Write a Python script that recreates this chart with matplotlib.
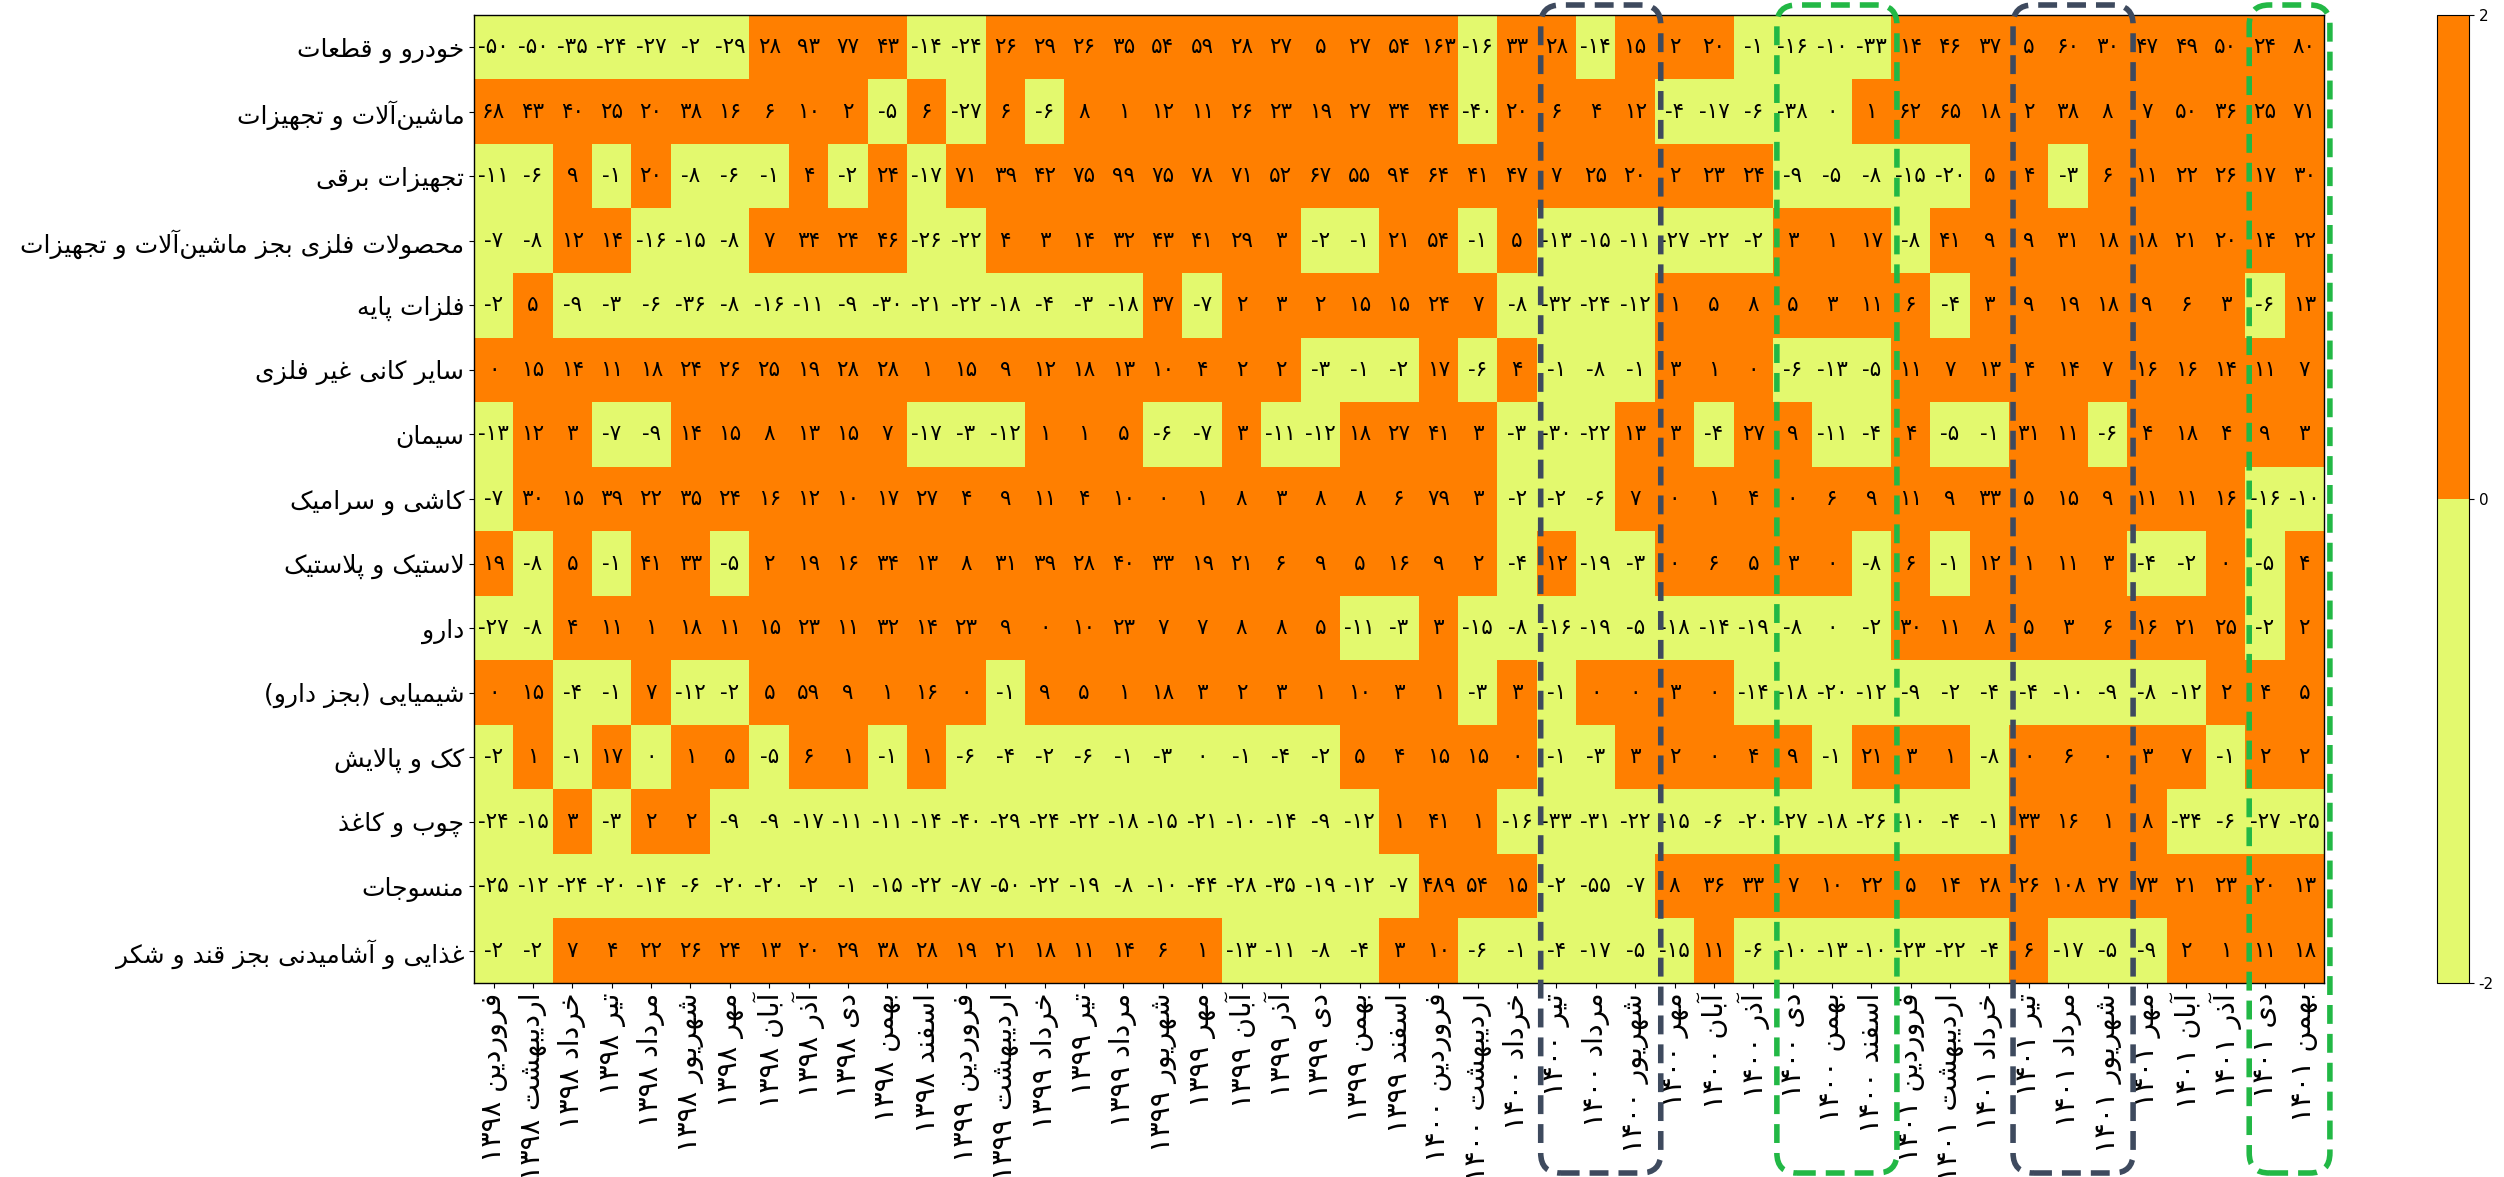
import matplotlib
matplotlib.use("Agg")
import matplotlib.pyplot as plt
import numpy as np
from matplotlib.colors import ListedColormap
from matplotlib.patches import FancyBboxPatch
from matplotlib.transforms import IdentityTransform

plt.rcParams['font.family'] = ['DejaVu Sans']
plt.rcParams['axes.unicode_minus'] = False

# ---------------- data ----------------
industries = [
    "خودرو و قطعات",
    "ماشین‌آلات و تجهیزات",
    "تجهیزات برقی",
    "محصولات فلزی بجز ماشین‌آلات و تجهیزات",
    "فلزات پایه",
    "سایر کانی غیر فلزی",
    "سیمان",
    "کاشی و سرامیک",
    "لاستیک و پلاستیک",
    "دارو",
    "شیمیایی (بجز دارو)",
    "کک و پالایش",
    "چوب و کاغذ",
    "منسوجات",
    "غذایی و آشامیدنی بجز قند و شکر",
]

month_names = ["فروردین", "اردیبهشت", "خرداد", "تیر", "مرداد", "شهریور",
               "مهر", "آبان", "آذر", "دی", "بهمن", "اسفند"]
years = ["1398", "1399", "1400", "1401"]
months_in_last_year = 11

# growth values (%) ; +-0.3 marks a value shown as 0 with its sign (colour)
row_auto = [-50,-50,-35,-24,-27,-2,-29,28,93,77,43,-14,-24,26,29,26,35,54,59,28,27,5,27,54,163,
            -16,33,28,-14,15,2,20,-1,-16,-10,-33,14,46,37,5,60,30,47,49,50,24,80]
row_mach = [68,43,40,25,20,38,16,6,10,2,-5,6,-27,6,-6,8,1,12,11,26,23,19,27,34,44,
            -40,20,6,4,12,-4,-17,-6,-38,-0.3,1,62,65,18,2,38,8,7,50,36,25,71]
row_elec = [-11,-6,9,-1,20,-8,-6,-1,4,-2,24,-17,71,39,42,75,99,75,78,71,52,67,55,94,64,
            41,47,7,25,20,2,23,24,-9,-5,-8,-15,-20,5,4,-3,6,11,22,26,17,30]
row_metprod = [-7,-8,12,14,-16,-15,-8,7,34,24,46,-26,-22,4,3,14,32,43,41,29,3,-2,-1,21,54,
               -1,5,-13,-15,-11,-27,-22,-2,3,1,17,-8,41,9,9,31,18,18,21,20,14,22]
row_basemet = [-2,5,-9,-3,-6,-36,-8,-16,-11,-9,-30,-21,-22,-18,-4,-3,-18,37,-7,2,3,2,15,15,24,
               7,-8,-32,-24,-12,1,5,8,5,3,11,6,-4,3,9,19,18,9,6,3,-6,13]
row_nonmet = [0.3,15,14,11,18,24,26,25,19,28,28,1,15,9,12,18,13,10,4,2,2,-3,-1,-2,17,
              -6,4,-1,-8,-1,3,1,0.3,-6,-13,-5,11,7,13,4,14,7,16,16,14,11,7]
row_cement = [-13,12,3,-7,-9,14,15,8,13,15,7,-17,-3,-12,1,1,5,-6,-7,3,-11,-12,18,27,41,
              3,-3,-30,-22,13,3,-4,27,9,-11,-4,4,-5,-1,31,11,-6,4,18,4,9,3]
row_tile = [-7,30,15,39,22,35,24,16,12,10,17,27,4,9,11,4,10,0.3,1,8,3,8,8,6,79,
            3,-2,-2,-6,7,0.3,1,4,0.3,6,9,11,9,33,5,15,9,11,11,16,-16,-10]
row_rubber = [19,-8,5,-1,41,33,-5,2,19,16,34,13,8,31,39,28,40,33,19,21,6,9,5,16,9,
              2,-4,12,-19,-3,0.3,6,5,3,0.3,-8,6,-1,12,1,11,3,-4,-2,0.3,-5,4]
row_pharma = [-27,-8,4,11,1,18,11,15,23,11,32,14,23,9,0.3,10,23,7,7,8,8,5,-11,-3,3,
              -15,-8,-16,-19,-5,-18,-14,-19,-8,-0.3,-2,30,11,8,5,3,6,16,21,25,-2,2]
row_chem = [0.3,15,-4,-1,7,-12,-2,5,59,9,1,16,0.3,-1,9,5,1,18,3,2,3,1,10,3,1,
            -3,3,-1,0.3,0.3,3,0.3,-14,-18,-20,-12,-9,-2,-4,-4,-10,-9,-8,-12,2,4,5]
row_coke = [-2,1,-1,17,-0.3,1,5,-5,6,1,-1,1,-6,-4,-2,-6,-1,-3,-0.3,-1,-4,-2,5,4,15,
            15,0.3,-1,-3,3,2,0.3,4,9,-1,21,3,1,-8,0.3,6,0.3,3,7,-1,2,2]
row_wood = [-24,-15,3,-3,2,2,-9,-9,-17,-11,-11,-14,-40,-29,-24,-22,-18,-15,-21,-10,-14,-9,-12,1,41,
            1,-16,-33,-31,-22,-15,-6,-20,-27,-18,-26,-10,-4,-1,33,16,1,8,-34,-6,-27,-25]
row_textile = [-25,-12,-24,-20,-14,-6,-20,-20,-2,-1,-15,-22,-87,-50,-22,-19,-8,-10,-44,-28,-35,-19,-12,-7,489,
               54,15,-2,-55,-7,8,36,33,7,10,22,5,14,28,26,108,27,73,21,23,20,13]
row_food = [-2,-2,7,4,22,26,24,13,20,29,38,28,19,21,18,11,14,6,1,-13,-11,-8,-4,3,10,
            -6,-1,-4,-17,-5,-15,11,-6,-10,-13,-10,-23,-22,-4,6,-17,-5,-9,2,1,11,18]

rows = [row_auto, row_mach, row_elec, row_metprod, row_basemet, row_nonmet, row_cement,
        row_tile, row_rubber, row_pharma, row_chem, row_coke, row_wood, row_textile, row_food]

# highlighted periods: (first month index, number of months, colour)
highlights = [(27, 3, "#3E4A5E"), (33, 3, "#22B845"), (39, 3, "#3E4A5E"), (45, 2, "#22B845")]

# ---------------- helpers for Persian text ----------------
FA_DIG = str.maketrans("0123456789", "۰۱۲۳۴۵۶۷۸۹")

FORMS = {
    'ا': ('\uFE8D', '\uFE8E', None, None), 'آ': ('\uFE81', '\uFE82', None, None),
    'أ': ('\uFE83', '\uFE84', None, None),
    'ب': ('\uFE8F', '\uFE90', '\uFE91', '\uFE92'), 'پ': ('\uFB56', '\uFB57', '\uFB58', '\uFB59'),
    'ت': ('\uFE95', '\uFE96', '\uFE97', '\uFE98'), 'ث': ('\uFE99', '\uFE9A', '\uFE9B', '\uFE9C'),
    'ج': ('\uFE9D', '\uFE9E', '\uFE9F', '\uFEA0'), 'چ': ('\uFB7A', '\uFB7B', '\uFB7C', '\uFB7D'),
    'ح': ('\uFEA1', '\uFEA2', '\uFEA3', '\uFEA4'), 'خ': ('\uFEA5', '\uFEA6', '\uFEA7', '\uFEA8'),
    'د': ('\uFEA9', '\uFEAA', None, None), 'ذ': ('\uFEAB', '\uFEAC', None, None),
    'ر': ('\uFEAD', '\uFEAE', None, None), 'ز': ('\uFEAF', '\uFEB0', None, None),
    'ژ': ('\uFB8A', '\uFB8B', None, None),
    'س': ('\uFEB1', '\uFEB2', '\uFEB3', '\uFEB4'), 'ش': ('\uFEB5', '\uFEB6', '\uFEB7', '\uFEB8'),
    'ص': ('\uFEB9', '\uFEBA', '\uFEBB', '\uFEBC'), 'ض': ('\uFEBD', '\uFEBE', '\uFEBF', '\uFEC0'),
    'ط': ('\uFEC1', '\uFEC2', '\uFEC3', '\uFEC4'), 'ظ': ('\uFEC5', '\uFEC6', '\uFEC7', '\uFEC8'),
    'ع': ('\uFEC9', '\uFECA', '\uFECB', '\uFECC'), 'غ': ('\uFECD', '\uFECE', '\uFECF', '\uFED0'),
    'ف': ('\uFED1', '\uFED2', '\uFED3', '\uFED4'), 'ق': ('\uFED5', '\uFED6', '\uFED7', '\uFED8'),
    'ک': ('\uFB8E', '\uFB8F', '\uFB90', '\uFB91'), 'گ': ('\uFB92', '\uFB93', '\uFB94', '\uFB95'),
    'ل': ('\uFEDD', '\uFEDE', '\uFEDF', '\uFEE0'), 'م': ('\uFEE1', '\uFEE2', '\uFEE3', '\uFEE4'),
    'ن': ('\uFEE5', '\uFEE6', '\uFEE7', '\uFEE8'), 'ه': ('\uFEE9', '\uFEEA', '\uFEEB', '\uFEEC'),
    'و': ('\uFEED', '\uFEEE', None, None),
    'ی': ('\uFBFC', '\uFBFD', '\uFBFE', '\uFBFF'), 'ئ': ('\uFE89', '\uFE8A', '\uFE8B', '\uFE8C'),
}
LAMALEF = {'ا': ('\uFEFB', '\uFEFC'), 'آ': ('\uFEF5', '\uFEF6'), 'أ': ('\uFEF7', '\uFEF8')}


def shape(text):
    units = []
    i = 0
    while i < len(text):
        c = text[i]
        if c == 'ل' and i + 1 < len(text) and text[i + 1] in LAMALEF:
            units.append(('LA', text[i + 1]))
            i += 2
        else:
            units.append((c, None))
            i += 1

    def dual(u):
        return u[0] in FORMS and FORMS[u[0]][2] is not None

    def arabic(u):
        return u[0] == 'LA' or u[0] in FORMS

    out = []
    for k, u in enumerate(units):
        prev = units[k - 1] if k > 0 else None
        nxt = units[k + 1] if k + 1 < len(units) else None
        cp = prev is not None and dual(prev) and arabic(u)
        if u[0] == 'LA':
            iso, fin = LAMALEF[u[1]]
            out.append(fin if cp else iso)
            continue
        if u[0] not in FORMS:
            if u[0] != '\u200c':
                out.append(u[0])
            continue
        f = FORMS[u[0]]
        cn = dual(u) and nxt is not None and arabic(nxt)
        if cp and cn:
            out.append(f[3])
        elif cn:
            out.append(f[2])
        elif cp:
            out.append(f[1])
        else:
            out.append(f[0])
    return ''.join(out)


def rtl(text):
    shaped = shape(text.translate(FA_DIG))
    tokens = []
    for ch in shaped:
        if ch.isdigit() and tokens and tokens[-1][0].isdigit():
            tokens[-1] += ch
        else:
            tokens.append(ch)
    tokens.reverse()
    mirror = {'(': ')', ')': '('}
    return ''.join(mirror.get(t, t) for t in tokens)


def fa_num(v):
    n = int(round(v))
    s = str(abs(n)).translate(FA_DIG)
    return ('-' + s) if n < 0 else s


# x labels
periods = []
for yi, y in enumerate(years):
    nm = 12 if yi < len(years) - 1 else months_in_last_year
    for m in range(nm):
        periods.append(month_names[m] + " " + y)

data = np.array(rows, dtype=float)
nrows, ncols = data.shape
assert ncols == len(periods)

# ---------------- figure ----------------
W, H = 2504, 1177
fig = plt.figure(figsize=(W / 100, H / 100), dpi=100)
ax = fig.add_axes([474 / W, 1 - 983 / H, 1850 / W, 968 / H])
cax = fig.add_axes([2437 / W, 1 - 983 / H, 32 / W, 968 / H])

cmap = ListedColormap(["#E3F96E", "#FF7F00"])
im = ax.imshow(data, cmap=cmap, vmin=-2, vmax=2, aspect='auto', interpolation='nearest')

for i in range(nrows):
    for j in range(ncols):
        ax.text(j, i, fa_num(data[i, j]), ha='center', va='center', fontsize=15.5, color='black')

ax.set_xticks(np.arange(ncols))
ax.set_xticklabels([rtl(p) for p in periods], rotation=90, fontsize=20.5)
ax.set_yticks(np.arange(nrows))
ax.set_yticklabels([rtl(t) for t in industries], fontsize=18)
for sp in ax.spines.values():
    sp.set_linewidth(1.0)

cb = fig.colorbar(im, cax=cax, ticks=[-2, 0, 2])
cb.ax.set_yticklabels(["-2", "0", "2"])
cb.ax.tick_params(labelsize=11)
cb.outline.set_linewidth(0.8)

# highlighted periods: dashed rounded frames spanning chart and labels
for c0, n, col in highlights:
    x0 = ax.transData.transform((c0 - 0.5 + 0.1, 0))[0]
    x1 = ax.transData.transform((c0 - 0.5 + n + 0.15, 0))[0]
    ytop = H - 5
    ybot = 4
    patch = FancyBboxPatch((x0, ybot), x1 - x0, ytop - ybot,
                           boxstyle="round,pad=0,rounding_size=20",
                           transform=IdentityTransform(), fill=False,
                           edgecolor=col, linewidth=4, linestyle=(0, (3.4, 1.8)),
                           clip_on=False, zorder=10)
    fig.add_artist(patch)

fig.savefig("out.png", dpi=100)
